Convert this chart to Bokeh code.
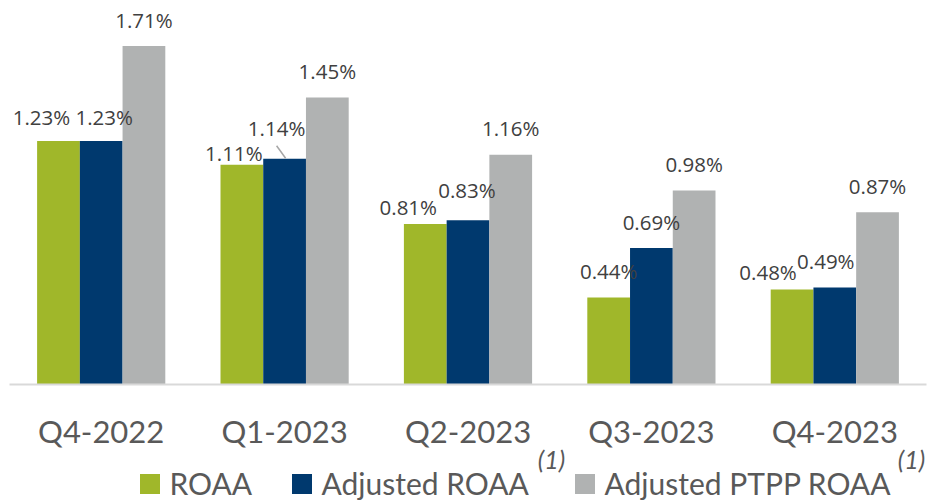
from bokeh.plotting import figure
from bokeh.models import (FactorRange, Range1d, ColumnDataSource, Legend,
                          LegendItem, Label)
from bokeh.layouts import column
from bokeh.transform import dodge
from bokeh.core.properties import value
from bokeh.embed import file_html
from bokeh.resources import INLINE

# ---------------- data ----------------
quarters = ["Q4-2022", "Q1-2023", "Q2-2023", "Q3-2023", "Q4-2023"]
roaa = [1.23, 1.11, 0.81, 0.44, 0.48]
adj_roaa = [1.23, 1.14, 0.83, 0.69, 0.49]
adj_ptpp_roaa = [1.71, 1.45, 1.16, 0.98, 0.87]
series_names = ["ROAA", "Adjusted ROAA", "Adjusted PTPP ROAA"]
footnote = "(1)"

# ---------------- style / layout ----------------
colors = ["#A0B72A", "#00396E", "#B0B2B2"]
label_color = "#404040"
axis_text_color = "#595959"

W = 928
FRAME_H = 384
BORDER_L, BORDER_R, BORDER_T, BORDER_B = 9, 2, 0, 80
H_CHART = FRAME_H + BORDER_T + BORDER_B      # 464
LEG_TOP = 440                                 # page y where the legend strip starts
H_LEG = 504 - LEG_TOP
frame_w = W - BORDER_L - BORDER_R
px_per_unit = 198.0
y_end = FRAME_H / px_per_unit
px_per_cat = frame_w / len(quarters)

bar_w = 0.233
offsets = [-bar_w, 0.0, bar_w]

# per-label pixel nudges (dx, dy) like the original's manual placement
label_dx = [[-17, -8, -17, 0, -24],
            [3, -8, -1, 0, -9],
            [0, 0, 0, 0, 0]]
label_dy = [[-23.5, -12, -17.5, -26, -17.5],
            [-23.5, -31, -30, -26, -26.5],
            [-26, -26, -26.5, -26, -26]]

p = figure(x_range=FactorRange(*quarters), y_range=Range1d(0, y_end),
           width=W, height=H_CHART, output_backend="svg", toolbar_location=None,
           min_border_left=BORDER_L, min_border_right=BORDER_R,
           min_border_top=BORDER_T, min_border_bottom=BORDER_B,
           y_axis_location=None)
p.outline_line_color = None
p.xgrid.grid_line_color = None
p.ygrid.grid_line_color = None

ax = p.xaxis[0]
ax.axis_line_color = "#D9D9D9"
ax.axis_line_width = 2
ax.major_tick_line_color = None
ax.minor_tick_line_color = None
ax.major_tick_out = 0
ax.major_tick_in = 0
ax.major_label_standoff = 27
ax.major_label_text_font = "Lato"
ax.major_label_text_font_size = "31px"
ax.major_label_text_color = axis_text_color

series = [roaa, adj_roaa, adj_ptpp_roaa]
sources = []
for i, vals in enumerate(series):
    src = ColumnDataSource(dict(
        q=quarters, v=vals,
        lab=[f"{v:.2f}%" for v in vals],
        dx=label_dx[i], dy=label_dy[i]))
    sources.append(src)
    p.vbar(x=dodge("q", offsets[i], range=p.x_range), top="v", width=bar_w,
           bottom=0, source=src, fill_color=colors[i], line_color=None)

for i, src in enumerate(sources):
    p.text(x=dodge("q", offsets[i], range=p.x_range), y="v", text="lab",
           x_offset="dx", y_offset="dy", source=src,
           text_align="center", text_baseline="middle",
           text_font=value("Open Sans"), text_font_size="20.5px",
           text_color=label_color)

# leader line for the Adjusted ROAA Q1-2023 label
qi = 1
lead_src = ColumnDataSource(dict(q=[quarters[qi]],
                                 y0=[adj_roaa[qi] + 13 / px_per_unit],
                                 y1=[adj_roaa[qi] + 0.5 / px_per_unit]))
p.segment(x0=dodge("q", offsets[1] - 8 / px_per_cat, range=p.x_range), y0="y0",
          x1=dodge("q", offsets[1] + 1 / px_per_cat, range=p.x_range), y1="y1",
          source=lead_src, line_color="#A6A6A6", line_width=1.5)

# ---------------- legend strip (overlaps the empty bottom of the chart) ----------------
lg = figure(width=W, height=H_LEG, output_backend="svg", toolbar_location=None,
            x_range=Range1d(0, W), y_range=Range1d(0, H_LEG),
            min_border_left=0, min_border_right=0, min_border_top=0,
            min_border_bottom=0, x_axis_location=None, y_axis_location=None,
            margin=(LEG_TOP - H_CHART, 0, 0, 0))
lg.outline_line_color = None
lg.xgrid.grid_line_color = None
lg.ygrid.grid_line_color = None
lg.background_fill_color = None
lg.border_fill_color = None

# legend proxies (kept off the visible range; they only supply swatch colours)
proxy = ColumnDataSource(dict(x=[-10 * W], top=[0.0]))
leg_x = [127.5, 279.5, 562.5]
leg_y = 3
for i, name in enumerate(series_names):
    r = lg.vbar(x="x", top="top", width=1, source=proxy,
                fill_color=colors[i], line_color=None)
    leg = Legend(items=[LegendItem(label=name, renderers=[r])],
                 location=(leg_x[i], leg_y), orientation="horizontal",
                 glyph_width=25, glyph_height=25, label_standoff=8,
                 padding=0, margin=0, border_line_color=None,
                 background_fill_alpha=0,
                 label_text_font="Lato", label_text_font_size="30px",
                 label_text_color=axis_text_color)
    lg.add_layout(leg, "center")

for fx in [542, 902]:
    lg.add_layout(Label(x=fx, y=H_LEG - 18, x_units="screen", y_units="screen",
                        text=footnote, text_align="center",
                        text_baseline="middle", text_font="Lato",
                        text_font_style="italic", text_font_size="25px",
                        text_color=axis_text_color))

layout = column(p, lg, spacing=0)
open("out.html", "w").write(file_html(layout, INLINE))
